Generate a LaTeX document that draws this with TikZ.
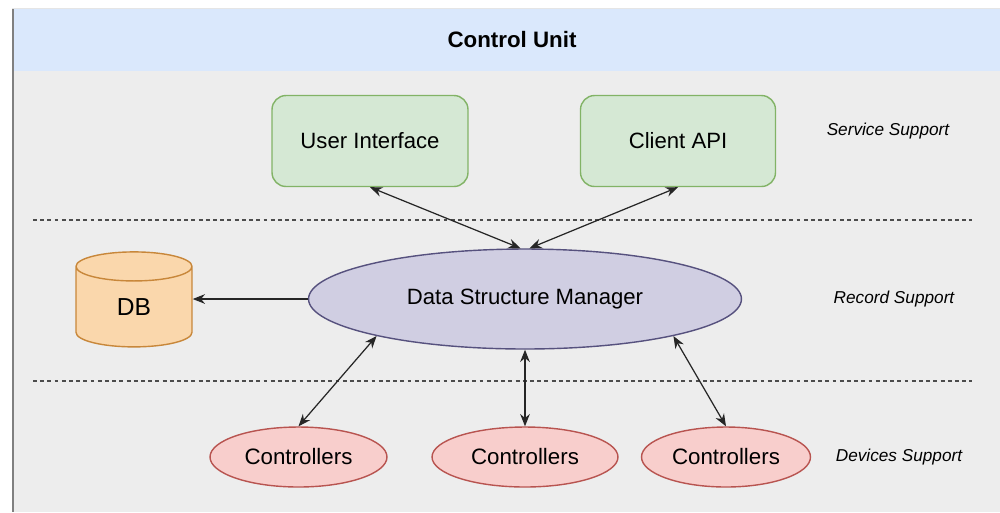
\documentclass[tikz,border=0pt]{standalone}
\usepackage{fontspec}
\setmainfont{Liberation Sans}
\usepackage{tikz}
\usetikzlibrary{positioning,shapes,arrows.meta,calc}
\definecolor{headblue}{HTML}{DAE8FC}
\definecolor{bodygray}{HTML}{EDEDED}
\definecolor{framegray}{HTML}{808080}
\definecolor{greenfill}{HTML}{D5E8D4}
\definecolor{greenline}{HTML}{82B366}
\definecolor{purplefill}{HTML}{D0CEE2}
\definecolor{purpleline}{HTML}{56517E}
\definecolor{orangefill}{HTML}{FAD7AC}
\definecolor{orangeline}{HTML}{C8873A}
\definecolor{redfill}{HTML}{F8CECC}
\definecolor{redline}{HTML}{B85450}

\tikzset{
  servicebox/.style={draw=greenline, fill=greenfill, line width=0.8pt, rounded corners=0.28cm,
    minimum width=3.92cm, minimum height=1.82cm, font=\fontsize{12.6}{14}\selectfont},
  ctrlnode/.style={draw=redline, fill=redfill, line width=0.8pt, ellipse, inner sep=0pt,
    minimum height=1.2cm, font=\fontsize{12.7}{14}\selectfont},
  layerlabel/.style={font=\fontsize{9.8}{12}\selectfont\itshape},
  layerline/.style={draw=black!70, line width=0.8pt, dash pattern=on 2.2pt off 1.9pt},
  link/.style={draw=black!85, line width=0.7pt, {Stealth[length=7pt,width=5.5pt]}-{Stealth[length=7pt,width=5.5pt]}},
}

\begin{document}
\begin{tikzpicture}[x=0.02cm, y=-0.02cm]
  \useasboundingbox (0,0) rectangle (1000,512);
  \fill[white] (0,0) rectangle (1000,512);
  \fill[black!10] (12,8) rectangle (1000,9);
  \fill[headblue] (13,9) rectangle (1000,71);
  \fill[bodygray] (13,71) rectangle (1000,512);
  \fill[framegray] (11.5,9) rectangle (13.5,512);

  \node[font=\fontsize{12.7}{14}\selectfont\bfseries] (title) at (512,40) {Control Unit};

  \node[servicebox] (ui) at (370,141) {User Interface};
  \node[servicebox, minimum width=3.9cm] (api) at (678,141) {Client API};

  \node[draw=purpleline, fill=purplefill, line width=0.8pt, ellipse, inner sep=0pt,
    minimum width=8.66cm, minimum height=2cm, font=\fontsize{12.6}{14}\selectfont]
    (dsm) at (525,299) {Data Structure Manager};

  \node[draw=orangeline, fill=orangefill, line width=0.8pt, cylinder, shape border rotate=90,
    aspect=0.85, minimum width=2.32cm, minimum height=1.9cm, inner sep=0pt,
    font=\fontsize{14}{16}\selectfont] (db) at (134,307) {\raisebox{-0.16cm}{DB}};

  \node[ctrlnode, minimum width=3.54cm] (ctrla) at (298.5,457) {Controllers};
  \node[ctrlnode, minimum width=3.72cm] (ctrlb) at (525,457) {Controllers};
  \node[ctrlnode, minimum width=3.38cm] (ctrlc) at (726,457) {Controllers};

  \node[layerlabel] (service) at (888,131) {Service Support};
  \node[layerlabel] (record) at (894,299) {Record Support};
  \node[layerlabel] (devices) at (899,457) {Devices Support};

  \draw[layerline] (33,220) -- (972,220);
  \draw[layerline] (33,381) -- (972,381);

  \draw[link] (ui.south) -- (dsm.95);
  \draw[link] (api.south) -- (dsm.85);
  \draw[draw=black!85, line width=0.7pt, -{Stealth[length=7pt,width=5.5pt]}] (dsm.west) -- (dsm.west -| db.east);
  \draw[link] (dsm.194) -- (ctrla.north);
  \draw[link] (dsm.south) -- (ctrlb.north);
  \draw[link] (dsm.-14) -- (ctrlc.north);
\end{tikzpicture}
\end{document}
